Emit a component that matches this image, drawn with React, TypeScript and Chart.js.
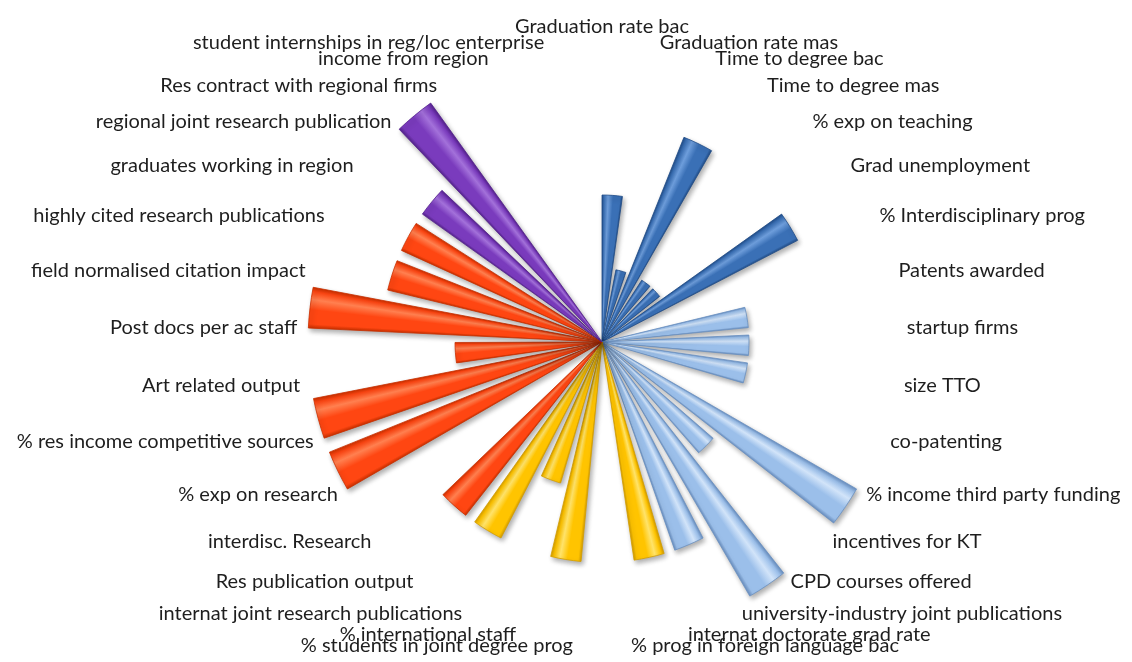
import React, { useEffect, useRef } from 'react';
import { Chart, registerables } from 'chart.js';

Chart.register(...registerables);

// Categories clockwise from the top
const categories: string[] = [
  'Graduation rate bac',
  'Graduation rate mas',
  'Time to degree bac',
  'Time to degree mas',
  '% exp on teaching',
  'Grad unemployment',
  '% Interdisciplinary prog',
  'Patents awarded',
  'startup firms',
  'size TTO',
  'co-patenting',
  '% income third party funding',
  'incentives for KT',
  'CPD courses offered',
  'university-industry joint publications',
  'internat doctorate grad rate',
  '% prog in foreign language bac',
  '% students in joint degree prog',
  '% international staff',
  'internat joint research publications',
  'Res publication output',
  'interdisc. Research',
  '% exp on research',
  '% res income competitive sources',
  'Art related output',
  'Post docs per ac staff',
  'field normalised citation impact',
  'highly cited research publications',
  'graduates working in region',
  'regional joint research publication',
  'Res contract with regional firms',
  'income from region',
  'student internships in reg/loc enterprise',
];

// Score per category (0 = no bar)
const scores: number[] = [
  2, 1, 3, 1, 1, 3, 0,
  2, 2, 2, 0, 4, 2, 4, 3,
  3, 0, 3, 2, 3,
  3, 0, 4, 4, 2, 4, 3, 3,
  3, 4, 0, 0, 0,
];

// Dimension of each category
const dimensionNames: string[] = ['teaching', 'transfer', 'international', 'research', 'regional'];
const dimensionSizes: number[] = [7, 8, 5, 8, 5];

const palettes: Record<string, { base: string; light: string; dark: string }> = {
  teaching: { base: '#3A70B6', light: '#6E9EDC', dark: '#214D88' },
  transfer: { base: '#9BBFEA', light: '#D2E4F9', dark: '#6A90C2' },
  international: { base: '#FFC400', light: '#FFE36A', dark: '#D49E00' },
  research: { base: '#FF4612', light: '#FF8050', dark: '#C93000' },
  regional: { base: '#7A3BBD', light: '#A371DA', dark: '#55228E' },
};

const STEP_DEG = 360 / categories.length;
const WEDGE_DEG = 8;
const SCALE_MAX = 4.15;

const categoryDimension: string[] = [];
dimensionNames.forEach((d, i) => {
  for (let j = 0; j < dimensionSizes[i]; j++) categoryDimension.push(d);
});

export default function App() {
  const ref = useRef<HTMLCanvasElement | null>(null);

  useEffect(() => {
    if (!ref.current) return;

    const values: number[] = [];
    const labels: string[] = [];
    scores.forEach((s, k) => {
      values.push(s);
      values.push(0);
      labels.push(categories[k]);
      labels.push('');
    });

    const shadowPlugin = {
      id: 'wedgeShadow',
      beforeDatasetsDraw(chart: any) {
        const c = chart.ctx;
        c.save();
        c.shadowColor = 'rgba(0,0,0,0.32)';
        c.shadowBlur = 5;
        c.shadowOffsetX = 2;
        c.shadowOffsetY = 3;
      },
      afterDatasetsDraw(chart: any) {
        chart.ctx.restore();
      },
    };

    const labelPlugin = {
      id: 'categoryLabels',
      afterDraw(chart: any) {
        const r = chart.scales.r;
        const c = chart.ctx;
        c.save();
        c.font = '20px Lato';
        c.fillStyle = '#1E1E1E';
        categories.forEach((text, k) => {
          const p = r.getPointPosition(2 * k, r.drawingArea);
          const deg = k * STEP_DEG;
          if (deg < 0.5) {
            c.textAlign = 'center';
            c.textBaseline = 'bottom';
          } else {
            c.textAlign = deg < 180 ? 'left' : 'right';
            c.textBaseline = 'middle';
          }
          c.fillText(text, p.x, p.y);
        });
        c.restore();
      },
    };

    const chart = new Chart(ref.current, {
      type: 'polarArea',
      data: {
        labels,
        datasets: [
          {
            data: values,
            angle: (ctx: any) => (ctx.dataIndex % 2 === 0 ? WEDGE_DEG : STEP_DEG - WEDGE_DEG),
            backgroundColor: (ctx: any) => {
              const i = ctx.dataIndex;
              if (i % 2 === 1) return 'rgba(0,0,0,0)';
              const k = i / 2;
              const pal = palettes[categoryDimension[k]];
              const chart = ctx.chart;
              const r = chart.scales && chart.scales.r;
              if (!r || r.xCenter == null || !chart.ctx.createConicGradient) return pal.base;
              const deg = k * STEP_DEG;
              const start = -Math.PI / 2 + (deg * Math.PI) / 180;
              const g = chart.ctx.createConicGradient(start, r.xCenter, r.yCenter);
              const w = WEDGE_DEG / 360;
              // light from the upper side of each wedge
              const hi = deg + WEDGE_DEG / 2 < 180 ? 0.3 : 0.7;
              g.addColorStop(0, pal.dark);
              g.addColorStop(w * 0.1, pal.base);
              g.addColorStop(w * hi, pal.light);
              g.addColorStop(w * (hi < 0.5 ? 0.55 : 0.45), pal.base);
              g.addColorStop(w * 0.9, pal.base);
              g.addColorStop(w, pal.dark);
              g.addColorStop(Math.min(1, w * 1.01), pal.dark);
              return g;
            },
            borderColor: (ctx: any) => {
              const i = ctx.dataIndex;
              if (i % 2 === 1) return 'rgba(0,0,0,0)';
              return palettes[categoryDimension[i / 2]].dark;
            },
            borderWidth: (ctx: any) => (ctx.dataIndex % 2 === 0 && scores[ctx.dataIndex / 2] > 0 ? 0.8 : 0),
          } as any,
        ],
      },
      options: {
        responsive: false,
        animation: false,
        layout: { padding: { left: 297, top: 37, right: 225, bottom: 15 } },
        plugins: {
          legend: { display: false },
          tooltip: { enabled: false },
        },
        scales: {
          r: {
            min: 0,
            max: SCALE_MAX,
            startAngle: 0,
            grid: { display: false },
            angleLines: { display: false },
            ticks: { display: false },
            pointLabels: { display: false },
          },
        },
      } as any,
      plugins: [shadowPlugin, labelPlugin],
    });

    return () => chart.destroy();
  }, []);

  return (
    <div style={{ position: 'fixed', left: 0, top: 0, width: 1132, height: 662, background: '#ffffff' }}>
      <canvas ref={ref} width={1132} height={662} />
    </div>
  );
}
